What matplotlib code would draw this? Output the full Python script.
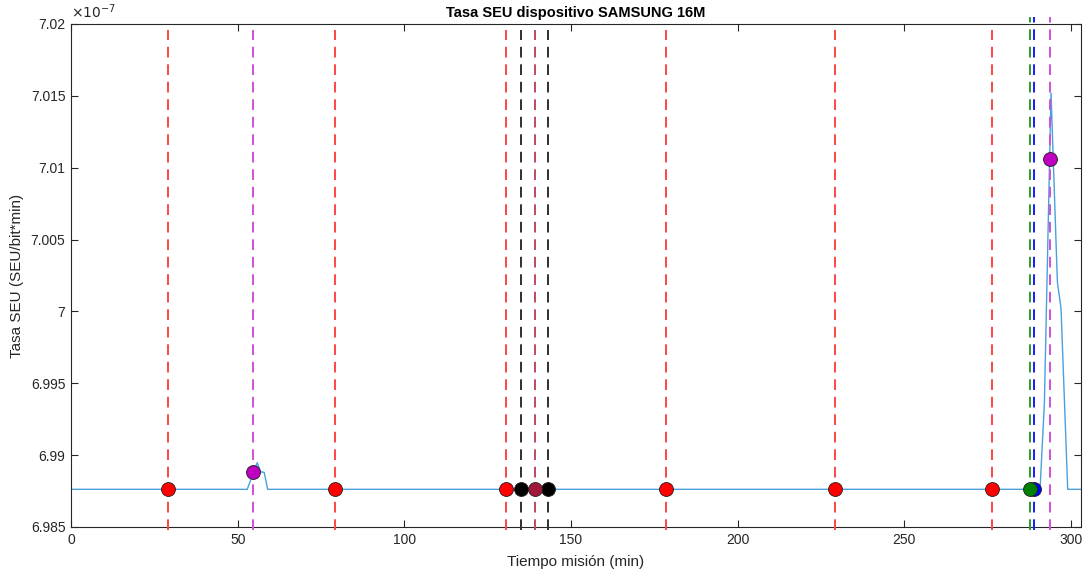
import matplotlib.pyplot as plt
from matplotlib.ticker import FuncFormatter

plt.rcParams['font.family'] = ['Liberation Sans', 'DejaVu Sans']

# SEU rate curve (units of 1e-7 SEU/bit*min)
t_min = [0, 52.85, 55.85, 56.9, 57.95, 59.0, 290.7, 292.0, 294.0, 295.9, 297.0, 299.0, 305]
seu_rate = [6.98762, 6.98762, 6.98947, 6.98884, 6.9888, 6.98762, 6.98762, 6.99359,
            7.01519, 7.00206, 7.00020, 6.98762, 6.98762]

# events: time, rate at marker, marker colour, dashed line colour
ev_time = [29.1, 79.1, 130.4, 178.4, 229.3, 276.4, 54.6, 293.6, 134.9, 143.0, 139.1, 287.8, 288.9]
ev_rate = [6.98762, 6.98762, 6.98762, 6.98762, 6.98762, 6.98762, 6.9888, 7.01058,
           6.98762, 6.98762, 6.98762, 6.98762, 6.98762]
ev_marker = ['#ff0000'] * 6 + ['#c000c0', '#c000c0', '#000000', '#000000', '#a0183a',
                               '#008000', '#0000ff']
ev_line = ['#ff4545'] * 6 + ['#d050d8', '#d050d8', '#303030', '#303030', '#c04860',
                             '#2e9a2e', '#1a1aff']
ev_tall = [False] * 6 + [False, True, False, False, False, True, True]
ev_z = [4] * 11 + [5, 4]

yticks = [6.985, 6.99, 6.995, 7.0, 7.005, 7.01, 7.015, 7.02]
xticks = [0, 50, 100, 150, 200, 250, 300]

fig = plt.figure(figsize=(10.88, 5.75), dpi=100)
ax = fig.add_axes([0.0653, 0.0835, 0.9283, 0.8748])

ax.plot(t_min, seu_rate, color='#4a9fdc', linewidth=1.0, zorder=2)

for x, c, tall in zip(ev_time, ev_line, ev_tall):
    ax.axvline(x, ymin=-0.006, ymax=1.013 if tall else 0.988, color=c,
               linestyle=(0, (5.5, 3.5)), linewidth=1.4, clip_on=False, zorder=3)

for x, y, c, z in zip(ev_time, ev_rate, ev_marker, ev_z):
    ax.plot(x, y, 'o', markersize=10, markerfacecolor=c, markeredgecolor='#202020',
            markeredgewidth=0.6, zorder=z)

ax.set_xlim(0, 303)
ax.set_ylim(6.985, 7.02)
ax.set_xticks(xticks)
ax.set_yticks(yticks)
ax.yaxis.set_major_formatter(FuncFormatter(lambda v, p: f'{v:g}'))
ax.tick_params(direction='in', top=True, right=True, length=5, width=0.8,
               colors='#262626', labelsize=10, pad=4)
for s in ax.spines.values():
    s.set_color('#262626')
    s.set_linewidth(0.8)

ax.text(0.0, 1.005, r'$\times10^{-7}$', transform=ax.transAxes, fontsize=10,
        color='#262626', ha='left', va='bottom')
ax.set_title('Tasa SEU dispositivo SAMSUNG 16M', fontsize=10.5, fontweight='bold',
             color='black', pad=5)
ax.set_xlabel('Tiempo misión (min)', fontsize=11, color='#262626', labelpad=6)
ax.set_ylabel('Tasa SEU (SEU/bit*min)', fontsize=11, color='#262626', labelpad=5)

fig.savefig('out.png', dpi=100)
